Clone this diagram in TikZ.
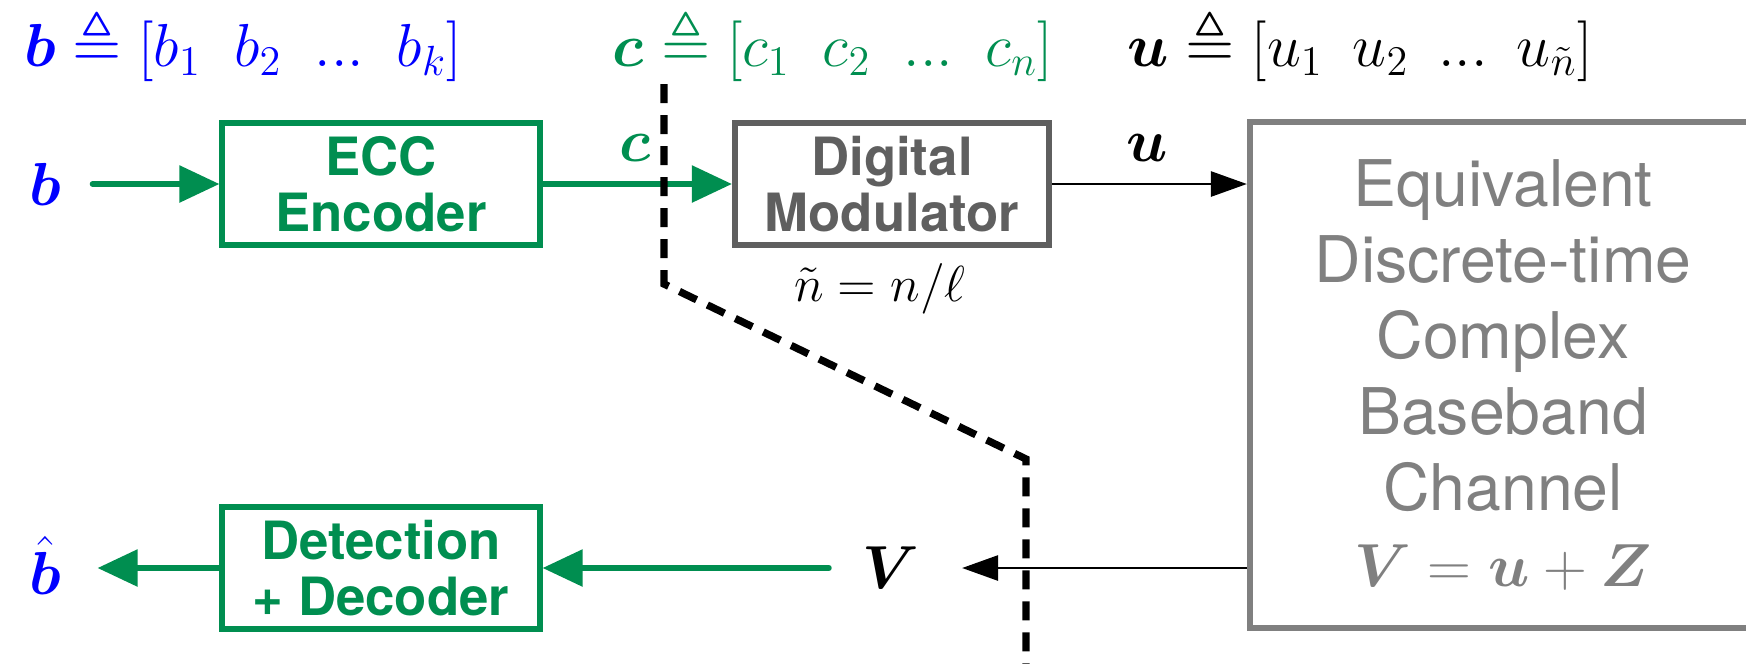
\documentclass[tikz,border=0pt]{standalone}
\usepackage{amsmath,amssymb}
\usepackage{bm}
\usepackage[no-math]{fontspec}
\setsansfont{TeX Gyre Heros}
\usetikzlibrary{arrows.meta}
\definecolor{eccgreen}{RGB}{0,142,80}
\definecolor{modgray}{RGB}{95,95,95}
\definecolor{changray}{RGB}{128,128,128}
\definecolor{bblue}{RGB}{0,0,255}
\tikzset{
  block/.style={draw, line width=1.7pt, rectangle, align=center,
    font=\sffamily\bfseries\fontsize{15}{15.8}\selectfont},
  greenblock/.style={block, draw=eccgreen, text=eccgreen, minimum width=3.17cm, minimum height=1.22cm},
  modblock/.style={block, draw=modgray, text=modgray, minimum width=3.14cm, minimum height=1.22cm},
  chanblock/.style={draw=changray, line width=1.7pt, rectangle, align=center, text=changray,
    minimum width=5.06cm, minimum height=5.06cm,
    font=\sffamily\fontsize{18.3}{21.6}\selectfont},
  greenarrow/.style={draw=eccgreen, line width=1.6pt, line cap=round,
    -{Triangle[length=0.4cm, width=0.36cm]}},
  blackarrow/.style={draw=black, line width=0.8pt,
    -{Triangle[length=0.36cm, width=0.25cm]}},
  mathlabel/.style={inner sep=0pt, font=\fontsize{17}{20}\selectfont},
  toplabel/.style={inner sep=0pt, anchor=base, font=\fontsize{18}{21}\selectfont},
  cutline/.style={draw=black, line width=2.1pt, dash pattern=on 0.19cm off 0.12cm},
}
\begin{document}
\begin{tikzpicture}[x=0.01cm, y=-0.01cm]
\useasboundingbox (0,0) rectangle (1746,663);
\clip (0,0) rectangle (1746,663);

% top definitions
\node[toplabel, text=bblue] (bdef) at (243,66) {$\bm{b} \triangleq [b_1\ \:b_2\ \:...\ \:b_k]$};
\node[toplabel, text=eccgreen] (cdef) at (833,66) {$\bm{c} \triangleq [c_1\ \:c_2\ \:...\ \:c_n]$};
\node[toplabel, text=black] (udef) at (1360,66) {$\bm{u} \triangleq [u_1\ \,u_2\ \,...\ \,u_{\tilde n}]$};

% blocks
\node[greenblock] (ecc) at (381,184) {ECC\\Encoder};
\node[modblock] (mod) at (892,184) {Digital\\Modulator};
\node[chanblock] (chan) at (1503,375) {Equivalent\\Discrete-time\\Complex\\Baseband\\Channel\\$\bm{V} = \bm{u} + \bm{Z}$};
\node[greenblock] (det) at (381,568) {Detection\\+ Decoder};

% signal labels
\node[mathlabel, text=bblue] (bin) at (45,184) {$\bm{b}$};
\node[mathlabel, text=bblue] (bout) at (45,565) {$\hat{\bm{b}}$};
\node[mathlabel, text=eccgreen] (clab) at (635,148) {$\bm{c}$};
\node[mathlabel, text=black] (ulab) at (1147,148) {$\bm{u}$};
\node[mathlabel, text=black] (vlab) at (891,568) {$\bm{V}$};
\node[inner sep=0pt, font=\fontsize{14}{17}\selectfont] (ntilde) at (880,289) {$\tilde n = n/\ell$};

% connectors
\draw[greenarrow] ([xshift=0.31cm]bin.east) -- (ecc.west);
\draw[greenarrow] (ecc.east) -- (mod.west);
\draw[blackarrow] (mod.east) -- (mod.east -| chan.west);
\draw[blackarrow] (chan.west |- vlab) -- ([xshift=0.42cm]vlab.east);
\draw[greenarrow] ([xshift=-0.33cm]vlab.west) -- (det.east);
\draw[greenarrow] (det.west) -- ([xshift=0.36cm]bout.east |- det.west);

% cut line
\coordinate (d1) at (664,84);
\coordinate (d2) at (664,284);
\coordinate (d3) at (1026,459);
\coordinate (d4) at (1026,670);
\draw[cutline] (d1) -- (d2) -- (d3) -- (d4);
\end{tikzpicture}
\end{document}
